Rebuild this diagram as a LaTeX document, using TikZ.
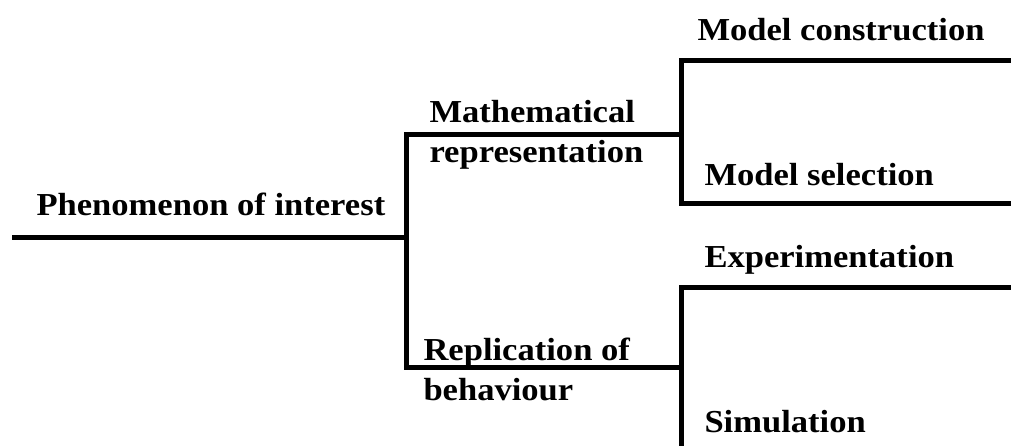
\documentclass[tikz,border=0pt]{standalone}
\usepackage{fontspec}
\setmainfont{Liberation Serif}[BoldFont={Liberation Serif Bold},FakeStretch=1.08]
\begin{document}
\begin{tikzpicture}[x=1pt,y=-1pt,line width=5pt,line join=miter,
  lbl/.style={anchor=base west,inner sep=0pt,align=left,font=\bfseries\fontsize{32}{40}\selectfont}]
\useasboundingbox (0,0) rectangle (1011,445);
\coordinate (root) at (12,237);
\coordinate (hub) at (406,237);
\coordinate (mtop) at (406,134);
\coordinate (rbot) at (406,367);
\coordinate (mjn) at (681,134);
\coordinate (rjn) at (681,367);
\coordinate (mc0) at (681,60);
\coordinate (mc1) at (1013,60);
\coordinate (ms0) at (681,203);
\coordinate (ms1) at (1013,203);
\coordinate (ex0) at (681,287);
\coordinate (ex1) at (1013,287);
\coordinate (sim0) at (681,447);
\node[lbl] (phen) at (34,215) {Phenomenon of interest};
\node[lbl] (math) at (427,162) {Mathematical\\representation};
\node[lbl] (repl) at (421,400) {Replication of\\behaviour};
\node[lbl] (mcon) at (695,40) {Model construction};
\node[lbl] (msel) at (702,185) {Model selection};
\node[lbl] (expe) at (702,267) {Experimentation};
\node[lbl] (simu) at (702,432) {Simulation};
\draw[](root) -- (hub);
\draw[](mjn) -- (mtop) -- (rbot) -- (rjn);
\draw[](mc1) -- (mc0) -- (ms0) -- (ms1);
\draw[](ex1) -- (ex0) -- (sim0);
\end{tikzpicture}
\end{document}
